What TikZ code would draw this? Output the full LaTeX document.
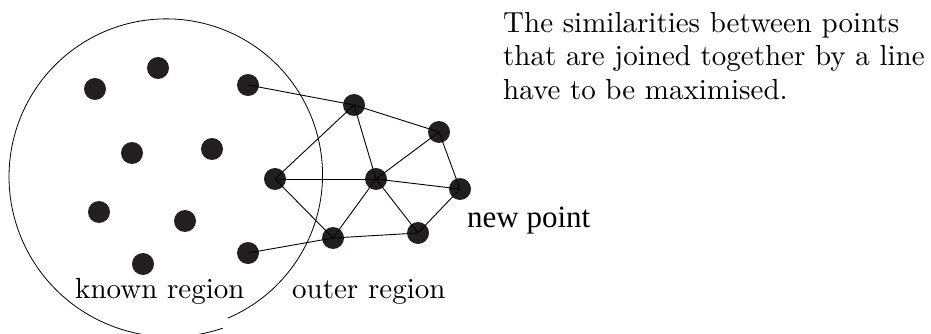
\documentclass[tikz,border=0pt]{standalone}
\usepackage{fontspec}
\setmainfont{lmroman10-regular.otf}
\newfontfamily\timesfont{Liberation Serif}
\definecolor{dotcol}{RGB}{35,31,32}
\tikzset{
  dot/.style={circle,fill=dotcol,draw=none,minimum size=22pt,inner sep=0pt},
  edge/.style={draw=black,line width=0.9pt},
  lbl/.style={anchor=base west,inner sep=0pt,font=\fontsize{29}{33.5}\selectfont},
  newlbl/.style={anchor=base west,inner sep=0pt,font=\timesfont\fontsize{31}{36}\selectfont}
}
\begin{document}
\begin{tikzpicture}[x=1pt,y=-1pt]
\useasboundingbox (0,0) rectangle (931,334);
% region boundary (hand-drawn circle whose ends do not meet)
\draw[line width=0.8pt] plot[domain=-67:290,samples=240,smooth]
  ({167+(155.5+7.5*pow((\x+67)/357,3))*cos(\x)},{175-(155.5+7.5*pow((\x+67)/357,3))*sin(\x)});
% known points
\node[dot] (k1) at (95,89) {};
\node[dot] (k2) at (158,68) {};
\node[dot] (k3) at (132,153) {};
\node[dot] (k4) at (212,149) {};
\node[dot] (k5) at (99,212) {};
\node[dot] (k6) at (185,221) {};
\node[dot] (k7) at (143,264) {};
\node[dot] (b1) at (248,85) {};
\node[dot] (b2) at (248,253) {};
% graph points
\node[dot] (o1) at (354,105) {};
\node[dot] (o2) at (439,132) {};
\node[dot] (o3) at (275,179) {};
\node[dot] (o4) at (376,179) {};
\node[dot] (o5) at (460,189) {};
\node[dot] (o6) at (333,238) {};
\node[dot] (o7) at (418,233) {};
% edges
\foreach \a/\b in {b1/o1,o1/o2,o1/o3,o1/o4,o2/o4,o2/o5,o3/o4,o3/o6,o4/o5,o4/o6,o4/o7,o5/o7,o6/o7,b2/o6}
  \draw[edge] (\a.center) -- (\b.center);
% labels
\node[lbl] (known) at (75,298) {known region};
\node[lbl] (outer) at (292,298) {outer region};
\node[newlbl] (newp) at (467,227) {new point};
\node[lbl] (t1) at (503,32.5) {The similarities between points};
\node[lbl] (t2) at (503,66) {that are joined together by a line};
\node[lbl] (t3) at (503,99.5) {have to be maximised.};
\end{tikzpicture}
\end{document}
